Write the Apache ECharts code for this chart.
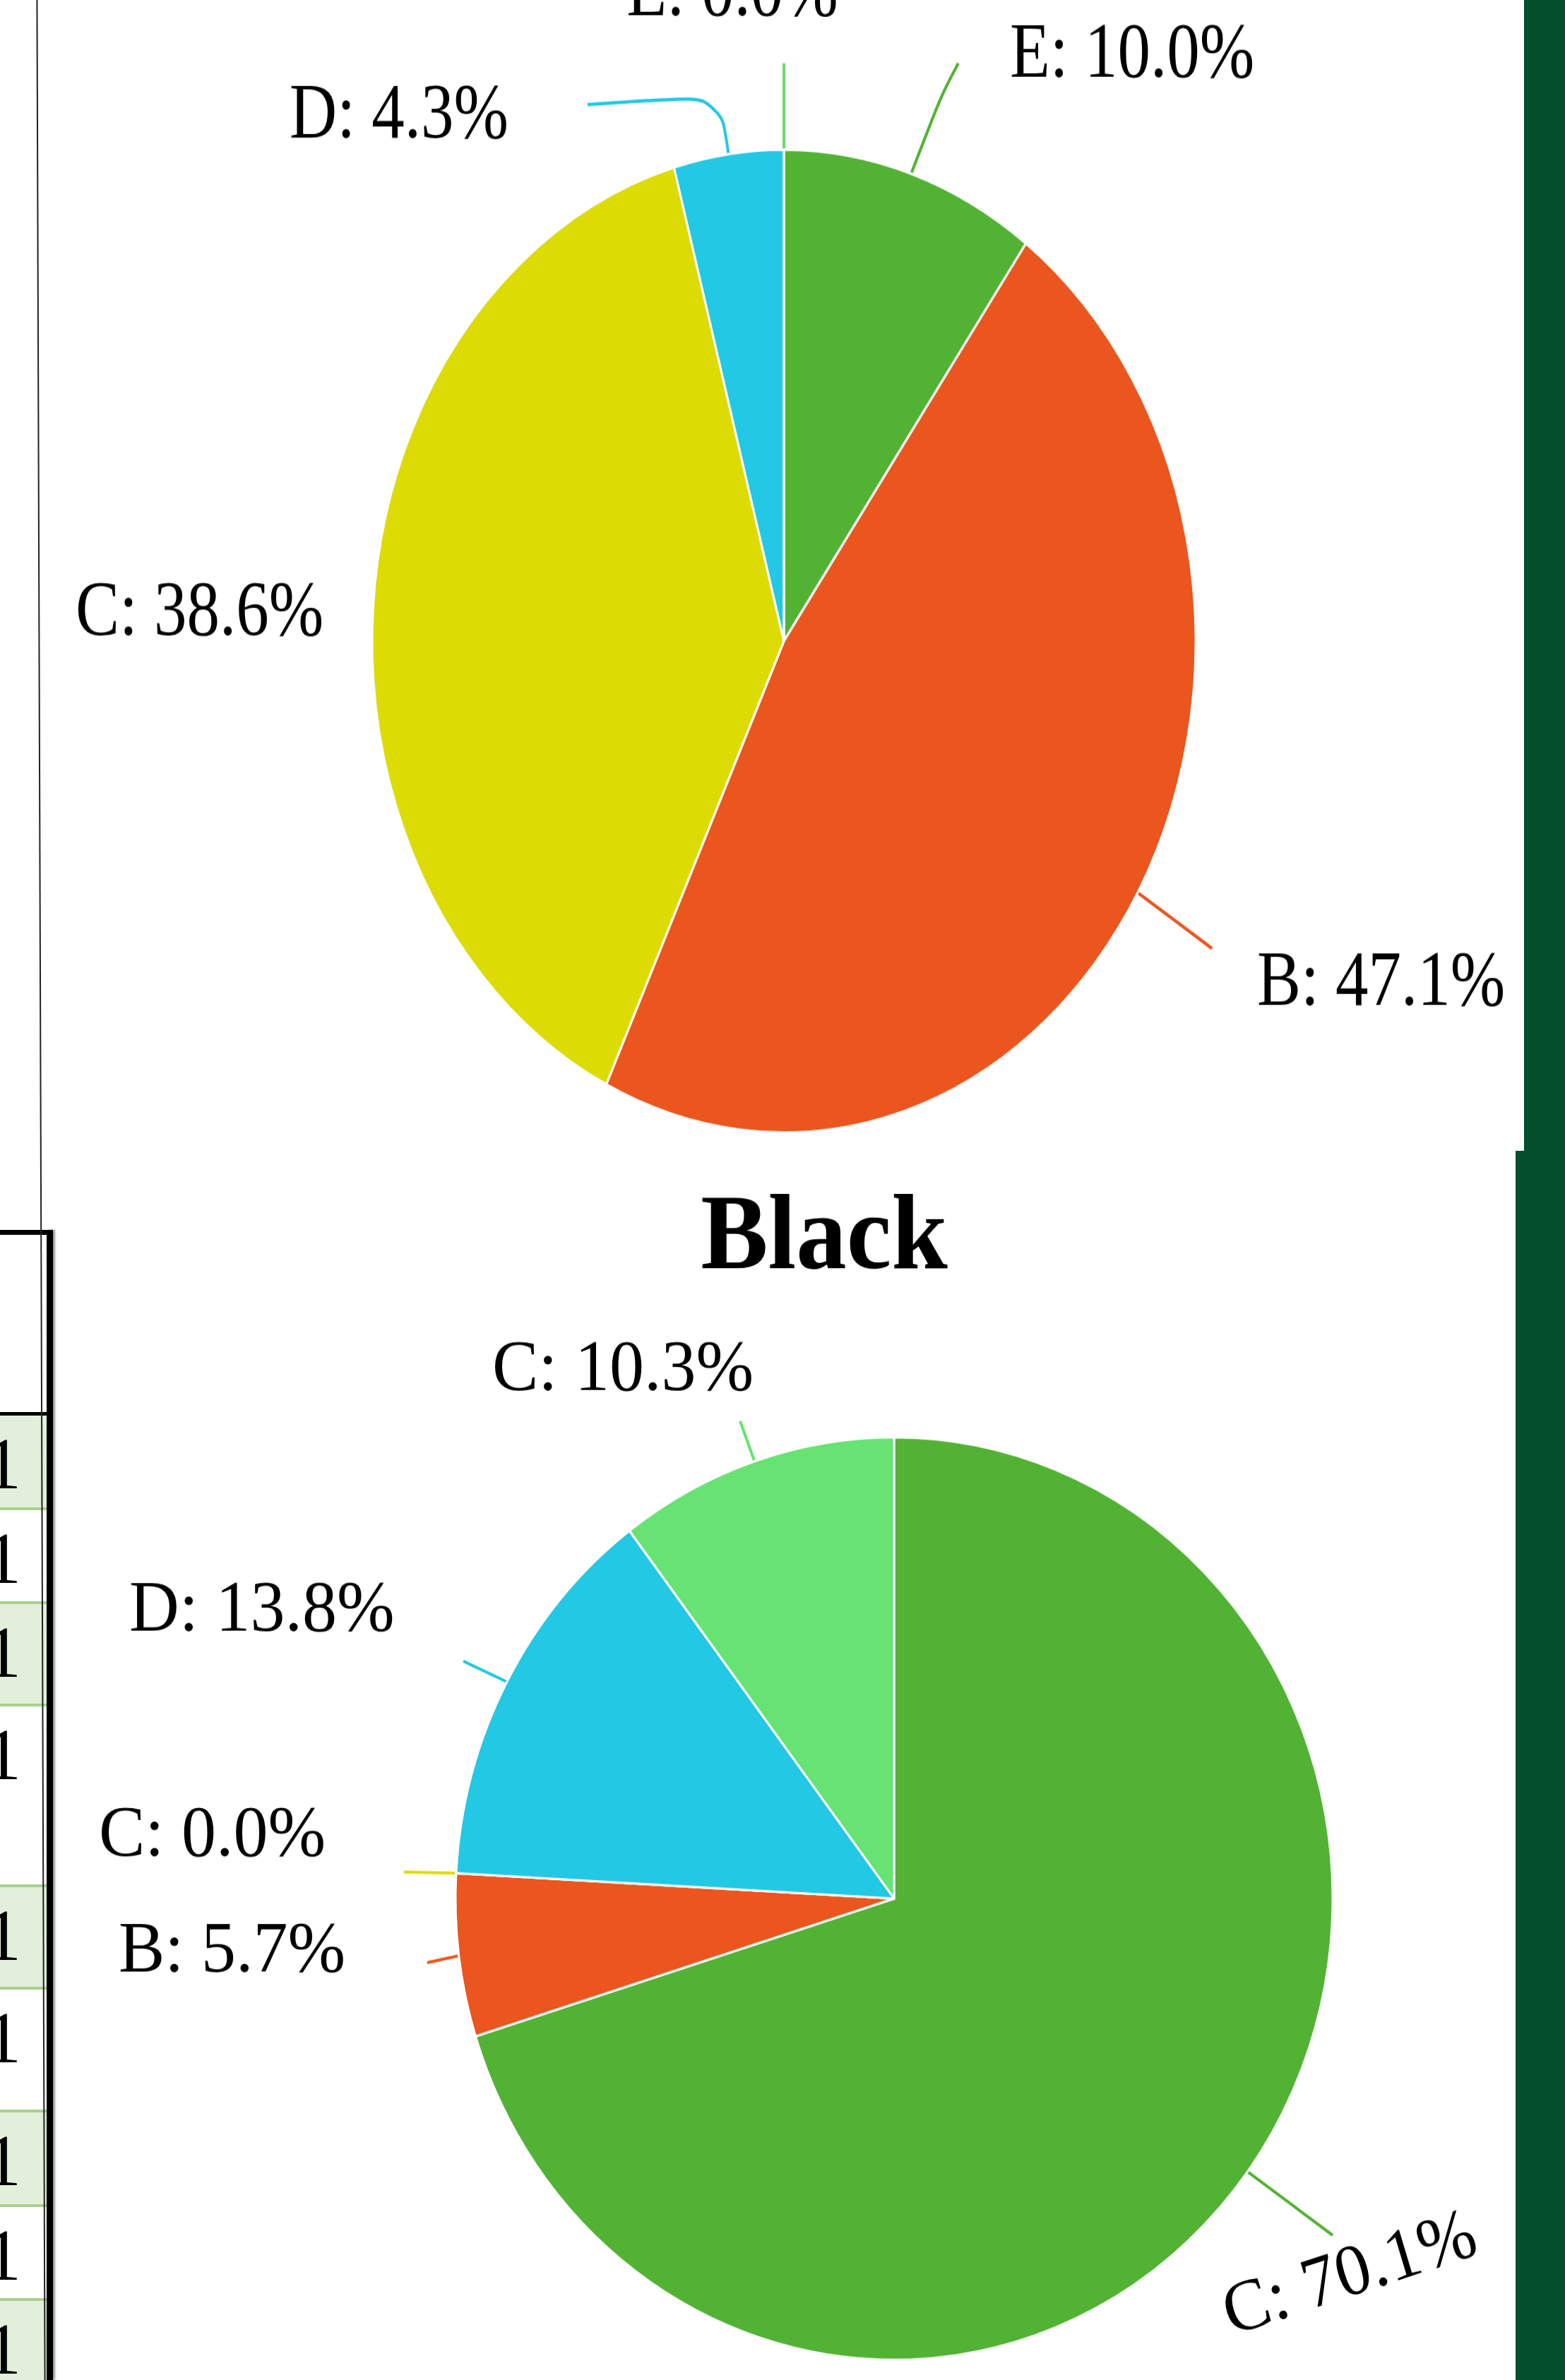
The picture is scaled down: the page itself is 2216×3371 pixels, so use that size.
<!DOCTYPE html>
<html>
<head>
<meta charset="utf-8">
<title>Pie charts</title>
<script src="https://cdn.jsdelivr.net/npm/echarts@6/dist/echarts.min.js"></script>
<style>
  html, body { margin: 0; padding: 0; background: #fff; }
  body { width: 2216px; height: 3371px; position: relative; overflow: hidden; }
  /* the source photo is stretched vertically, so the charts are too */
  #topChart { position: absolute; left: 0; top: 0; width: 2216px; height: 1365px;
    transform: scaleY(1.194); transform-origin: 0 0; }
  #bottomChart { position: absolute; left: 0; top: 1630px; width: 2216px; height: 1655px;
    transform: scaleY(1.052); transform-origin: 0 0; }
  .deco { position: absolute; }
  .row-fill { position: absolute; left: 0; width: 66px; background: #e2efda; }
  .row-line { position: absolute; left: 0; width: 66px; height: 4px; background: #a9d08e; }
  .row-num { position: absolute; left: -22px; font-family: 'Liberation Serif', serif; font-size: 104px;
    line-height: 1; color: #000; }
</style>
</head>
<body>
<div id="topChart"></div>
<div id="bottomChart"></div>
<div id="decor"></div>
<script>
const topNames = ['E', 'B', 'C', 'D', 'E'];
const topValues = [10.0, 47.1, 38.6, 4.3, 0.0];

const bottomTitle = 'Black';
const bottomNames = ['C', 'B', 'C', 'D', 'C'];
const bottomValues = [70.1, 5.7, 0.0, 13.8, 10.3];

const topColors = ['#52b234', '#ea561d', '#dcdc04', '#22c8e4', '#6cd86b'];
const bottomColors = ['#52b234', '#ea561d', '#dcdc04', '#22c8e4', '#66e372'];

const FONT = "'Liberation Serif', 'Times New Roman', serif";

// label spots in chart-local px (before the css stretch)
const topLabelPos = [
  { x: 1430, y: 67, align: 'left', line: [[1335, 109], [1357, 75]] },
  { x: 1780, y: 1168, align: 'left', line: [[1716, 1125]] },
  { x: 107, y: 729, align: 'left', line: null },
  { x: 410, y: 139, align: 'left', line: [[1020, 113], [832, 124]] },
  { x: 1037, y: -6, align: 'center', line: [[1110, 75]] }
];

const bottomLabelPos = [
  { x: 1912, y: 1515, align: 'center', rotate: 17.5, line: [[1887, 1460]] },
  { x: 168, y: 1079, align: 'left', line: [[605, 1093]] },
  { x: 140, y: 923, align: 'left', line: [[572, 971]] },
  { x: 183, y: 620, align: 'left', line: [[656, 687]] },
  { x: 697, y: 296, align: 'left', line: [[1048, 364]] }
];

function placeLabels(layout) {
  return function (params) {
    const pos = layout[params.dataIndex];
    const res = { x: pos.x, y: pos.y, align: pos.align, verticalAlign: 'middle' };
    if (pos.rotate) {
      res.rotate = pos.rotate;
    }
    if (pos.line && params.labelLinePoints) {
      const p0 = params.labelLinePoints[0];
      const pts = [p0].concat(pos.line);
      if (pts.length === 2) {
        pts.splice(1, 0, [(p0[0] + pts[1][0]) / 2, (p0[1] + pts[1][1]) / 2]);
      }
      res.labelLinePoints = pts;
    }
    return res;
  };
}

function pieSeries(names, values, colors, center, radius, fontSize, layout, hideLine) {
  return {
    type: 'pie',
    center: center,
    radius: radius,
    startAngle: 90,
    clockwise: true,
    avoidLabelOverlap: false,
    minShowLabelAngle: 0,
    silent: true,
    itemStyle: { borderColor: '#ffffff', borderWidth: 3 },
    label: {
      show: true,
      position: 'outside',
      formatter: p => p.name + ': ' + p.value.toFixed(1) + '%',
      fontFamily: FONT,
      fontSize: fontSize,
      color: '#000'
    },
    labelLine: { show: true, length: 30, length2: 30, smooth: 0.4, lineStyle: { width: 4 } },
    labelLayout: placeLabels(layout),
    data: names.map((n, i) => {
      const item = { name: n, value: values[i], itemStyle: { color: colors[i] } };
      if (hideLine.indexOf(i) >= 0) {
        item.labelLine = { show: false };
      }
      return item;
    })
  };
}

const topChart = echarts.init(document.getElementById('topChart'), null, { renderer: 'canvas' });
topChart.setOption({
  animation: false,
  backgroundColor: 'transparent',
  series: [pieSeries(topNames, topValues, topColors, [1110, 760.5], 583, 93, topLabelPos, [2])]
});

const bottomChart = echarts.init(document.getElementById('bottomChart'), null, { renderer: 'canvas' });
bottomChart.setOption({
  animation: false,
  backgroundColor: 'transparent',
  graphic: [{
    type: 'text',
    x: 1167,
    y: 121,
    style: {
      text: bottomTitle,
      fontFamily: FONT,
      fontSize: 143,
      fontWeight: 'bold',
      fill: '#000',
      align: 'center',
      verticalAlign: 'middle'
    }
  }],
  series: [pieSeries(bottomNames, bottomValues, bottomColors, [1266, 1006.7], 621, 98, bottomLabelPos, [])]
});

// poster bits around the charts: cut-off table on the left, green bands on the right
(function drawDecor() {
  const host = document.getElementById('decor');
  function box(css, cls, text) {
    const d = document.createElement('div');
    d.className = cls || 'deco';
    d.style.cssText = css;
    if (text) d.textContent = text;
    host.appendChild(d);
  }
  const greenRows = [[2005, 2137], [2270, 2415], [2671, 2816], [2990, 3124], [3257, 3371]];
  greenRows.forEach(r => box('top:' + r[0] + 'px;height:' + (r[1] - r[0]) + 'px;', 'row-fill'));
  [2137, 2270, 2415, 2671, 2816, 2990, 3124, 3257].forEach(y =>
    box('top:' + (y - 2) + 'px;', 'row-line'));
  [2003, 2137, 2270, 2415, 2671, 2816, 2990, 3124, 3257].forEach(y =>
    box('top:' + (y + 18) + 'px;', 'row-num', '1'));
  box('left:0;top:1742px;width:75px;height:7px;background:#000;');
  box('left:0;top:2000px;width:68px;height:5px;background:#000;');
  box('left:66px;top:1742px;width:9px;height:1629px;background:#000;box-shadow:3px 0 3px #999;');
  box('left:57px;top:0;width:2px;height:3371px;background:#222;transform:rotate(-0.19deg);');
  box('left:2158px;top:0;width:58px;height:1630px;background:#034f2e;');
  box('left:2146px;top:1630px;width:70px;height:1741px;background:#034f2e;');
})();
</script>
</body>
</html>
